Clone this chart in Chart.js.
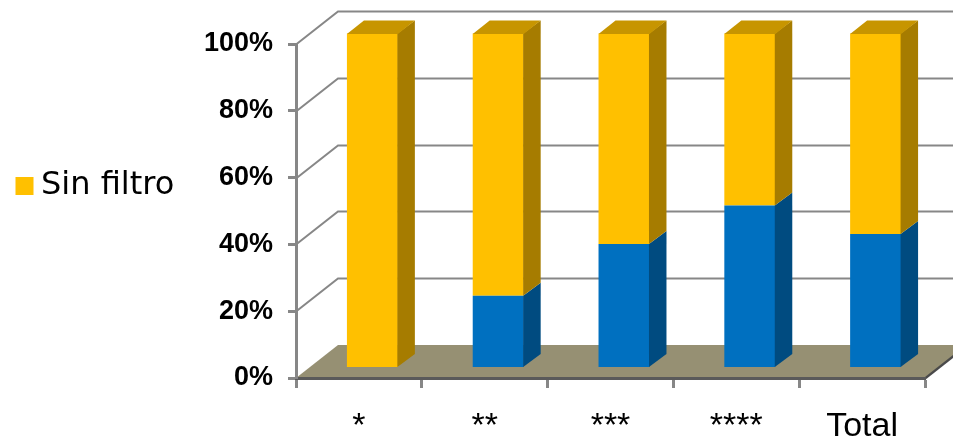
<!DOCTYPE html>
<html>
<head>
<meta charset="utf-8">
<script src="https://cdn.jsdelivr.net/npm/chart.js@4.4.1/dist/chart.umd.min.js"></script>
<style>
  html, body { margin: 0; padding: 0; background: #ffffff; }
  #wrap { width: 953px; height: 437px; }
</style>
</head>
<body>
<div id="wrap"><canvas id="chart" width="953" height="437"></canvas></div>
<script>
// Share of each rating level, stacked to 100 %
const categories = ['*', '**', '***', '****', 'Total'];
const conFiltro = [0, 21.5, 37, 48.5, 40];
const sinFiltro = [100, 78.5, 63, 51.5, 60];
const percentTicks = ['0%', '20%', '40%', '60%', '80%', '100%'];

// Pseudo-3D geometry (pixels)
const PLOT_LEFT = 296;                       // front edge of the value axis
const WALL = { dx: 42, dy: -33 };            // depth of floor and side wall
const BAR_SHIFT = { dx: 13.5, dy: -10.5 };   // bars stand inside the floor
const BAR_DEPTH = { dx: 17, dy: -13 };       // thickness of each column

const faceColors = [
  { side: '#004B80', top: '#005A9A' },
  { side: '#A67C00', top: '#C79500' }
];

const depthPlugin = {
  id: 'depth3d',
  beforeDraw(chart) {
    const { ctx, chartArea: a, scales: { y } } = chart;
    ctx.save();
    // side wall diagonals and back wall grid lines
    ctx.strokeStyle = '#878787';
    ctx.lineWidth = 2;
    y.ticks.forEach(t => {
      if (t.value === 0) return;
      const py = Math.round(y.getPixelForValue(t.value)) + 0.5;
      ctx.beginPath();
      ctx.moveTo(a.left, py);
      ctx.lineTo(a.left + WALL.dx, py + WALL.dy);
      ctx.lineTo(a.right + WALL.dx, py + WALL.dy);
      ctx.stroke();
    });
    // floor
    ctx.fillStyle = '#969073';
    ctx.beginPath();
    ctx.moveTo(a.left, a.bottom);
    ctx.lineTo(a.right, a.bottom);
    ctx.lineTo(a.right + WALL.dx, a.bottom + WALL.dy);
    ctx.lineTo(a.left + WALL.dx, a.bottom + WALL.dy);
    ctx.closePath();
    ctx.fill();
    // floor thickness on the right
    ctx.fillStyle = '#4a4a4a';
    ctx.beginPath();
    ctx.moveTo(a.right, a.bottom - 1);
    ctx.lineTo(a.right + WALL.dx, a.bottom + WALL.dy - 1);
    ctx.lineTo(a.right + WALL.dx, a.bottom + WALL.dy + 2);
    ctx.lineTo(a.right, a.bottom + 2);
    ctx.closePath();
    ctx.fill();
    ctx.restore();
  },
  beforeDatasetsDraw(chart) {
    chart.ctx.save();
    chart.ctx.translate(BAR_SHIFT.dx, BAR_SHIFT.dy);
  },
  afterDatasetsDraw(chart) {
    const ctx = chart.ctx;
    const n = chart.data.datasets.length;
    chart.data.datasets.forEach((ds, d) => {
      const meta = chart.getDatasetMeta(d);
      meta.data.forEach(el => {
        const { x, y, base, width } = el.getProps(['x', 'y', 'base', 'width'], true);
        const top = Math.min(y, base), bottom = Math.max(y, base);
        if (bottom - top < 0.5) return;
        const l = x - width / 2, r = x + width / 2;
        ctx.fillStyle = faceColors[d].side;
        ctx.beginPath();
        ctx.moveTo(r - 0.5, bottom);
        ctx.lineTo(r - 0.5, top);
        ctx.lineTo(r + BAR_DEPTH.dx, top + BAR_DEPTH.dy);
        ctx.lineTo(r + BAR_DEPTH.dx, bottom + BAR_DEPTH.dy);
        ctx.closePath();
        ctx.fill();
        if (d === n - 1) {
          ctx.fillStyle = faceColors[d].top;
          ctx.beginPath();
          ctx.moveTo(l, top + 0.5);
          ctx.lineTo(l + BAR_DEPTH.dx, top + BAR_DEPTH.dy);
          ctx.lineTo(r + BAR_DEPTH.dx, top + BAR_DEPTH.dy);
          ctx.lineTo(r, top + 0.5);
          ctx.closePath();
          ctx.fill();
        }
      });
    });
    ctx.restore();
  }
};

new Chart(document.getElementById('chart'), {
  type: 'bar',
  data: {
    labels: categories,
    datasets: [
      { label: 'Con filtro', data: conFiltro, backgroundColor: '#0070C0', borderWidth: 0, clip: false },
      { label: 'Sin filtro', data: sinFiltro, backgroundColor: '#FFC000', borderWidth: 0, clip: false }
    ]
  },
  options: {
    responsive: false,
    animation: false,
    devicePixelRatio: 1,
    layout: { padding: { top: 44, right: 28, bottom: 0, left: 0 } },
    datasets: { bar: { barPercentage: 0.405, categoryPercentage: 1 } },
    plugins: {
      legend: {
        position: 'left',
        align: 'start',
        title: { display: true, text: '', font: { size: 10, lineHeight: 1 }, padding: { top: 92, bottom: 0 } },
        labels: {
          filter: item => item.datasetIndex === 1,
          usePointStyle: true,
          pointStyle: 'rect',
          boxWidth: 1,
          boxHeight: 18,
          padding: 24,
          color: '#000000',
          font: { family: 'DejaVu Sans', size: 32 }
        }
      },
      tooltip: { enabled: false }
    },
    scales: {
      x: {
        stacked: true,
        grid: { offset: true, drawOnChartArea: false, drawTicks: true, tickLength: 10, tickWidth: 3, tickColor: '#878787' },
        border: { display: true, color: '#5a5a5a', width: 3 },
        ticks: { autoSkip: false, maxRotation: 0, padding: 18, color: '#000000', font: { family: 'Liberation Sans', size: 34 } },
        afterFit: s => { s.height = 59; s.paddingLeft = 0; s.paddingRight = 0; }
      },
      y: {
        stacked: true,
        min: 0,
        max: 100,
        ticks: {
          stepSize: 20,
          padding: 15,
          color: '#000000',
          font: { family: 'Liberation Sans', size: 27, weight: 'bold' },
          callback: (v, i) => percentTicks[i]
        },
        grid: { drawOnChartArea: false, tickLength: 8, tickWidth: 3, tickColor: '#878787' },
        border: { color: '#878787', width: 3 },
        afterFit: s => { s.width = PLOT_LEFT - s.chart.legend.width; s.paddingTop = 0; s.paddingBottom = 0; }
      }
    }
  },
  plugins: [depthPlugin]
});
</script>
</body>
</html>
